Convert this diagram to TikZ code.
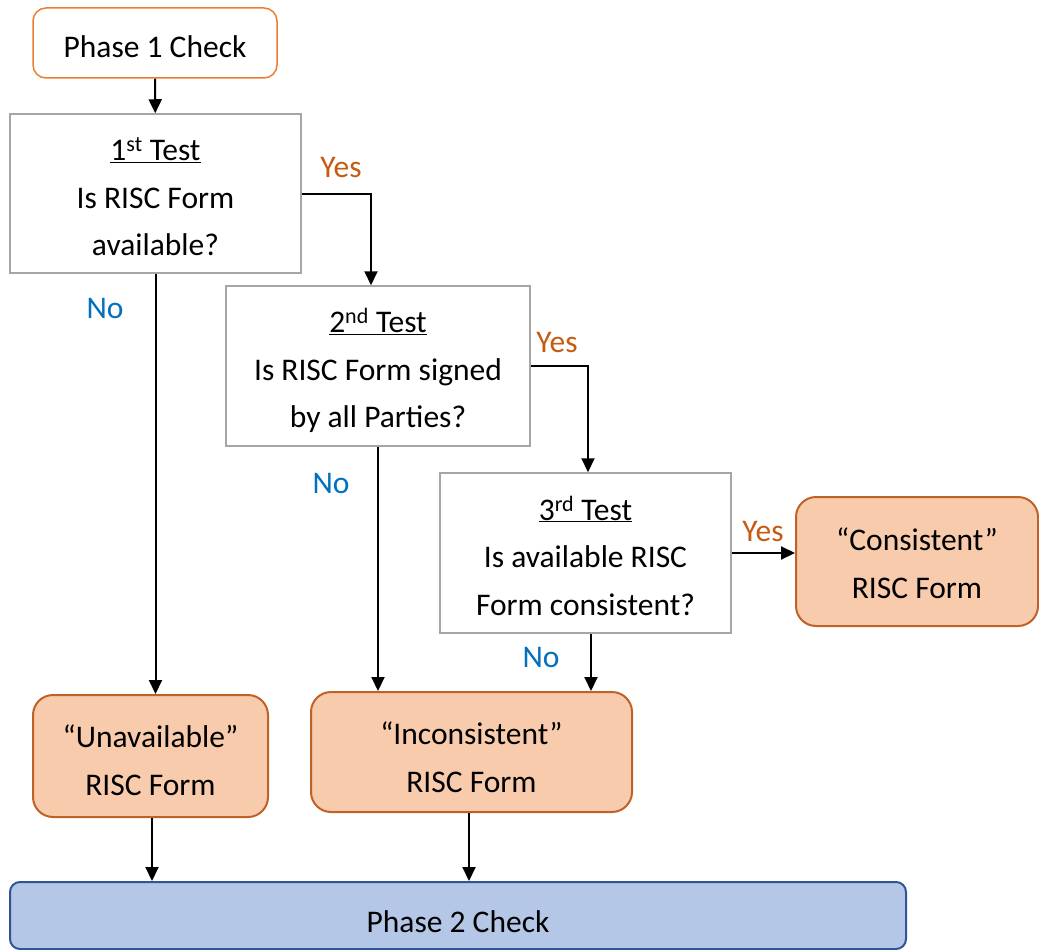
\documentclass[tikz,border=0pt]{standalone}
\usepackage{fontspec}
\setmainfont{Carlito}
\usetikzlibrary{arrows.meta}
\definecolor{pborder}{HTML}{ED7D31}
\definecolor{ofill}{HTML}{F8CBAD}
\definecolor{oborder}{HTML}{BF6228}
\definecolor{gborder}{HTML}{A6A6A6}
\definecolor{bfill}{HTML}{B4C7E7}
\definecolor{bborder}{HTML}{2F5597}
\definecolor{yescol}{HTML}{C55A11}
\definecolor{nocol}{HTML}{0070C0}
\begin{document}
\begin{tikzpicture}[x=1pt,y=-1pt,
  txt/.style={font=\fontsize{31.5}{47.5}\selectfont, align=center, inner sep=0pt},
  startbox/.style={draw=pborder, line width=1.5pt, rounded corners=13pt, fill=white, inner sep=0pt},
  testbox/.style={draw=gborder, line width=1.5pt, fill=white, inner sep=0pt},
  resultbox/.style={draw=oborder, line width=2pt, rounded corners=20pt, fill=ofill, inner sep=0pt},
  endbox/.style={draw=bborder, line width=2pt, rounded corners=10pt, fill=bfill, inner sep=0pt},
  conn/.style={line width=2pt, -{Triangle[length=14pt,width=13pt]}},
  yeslab/.style={txt, text=yescol},
  nolab/.style={txt, text=nocol}]
\useasboundingbox (0,0) rectangle (1039,950);
\node[startbox, minimum width=244pt, minimum height=70pt] (p1) at (155,43) {};
\node[testbox, minimum width=291pt, minimum height=159pt] (t1) at (155.5,193.5) {};
\node[testbox, minimum width=304pt, minimum height=160pt] (t2) at (378,366) {};
\node[testbox, minimum width=291pt, minimum height=160pt] (t3) at (585.5,553) {};
\node[resultbox, minimum width=242pt, minimum height=129pt] (cons) at (917,561.5) {};
\node[resultbox, minimum width=235pt, minimum height=122pt] (unav) at (150.5,756) {};
\node[resultbox, minimum width=321pt, minimum height=120pt] (incon) at (471.5,752) {};
\node[endbox, minimum width=896pt, minimum height=67pt] (p2) at (458,915.5) {};

\node[txt] (p1t) at ([yshift=-4pt]p1.center) {Phase 1 Check};
\node[txt] (t1t) at ([yshift=-3.5pt]t1.center) {\underline{1\textsuperscript{st} Test}\\Is RISC Form\\available?};
\node[txt] (t2t) at ([yshift=-4.5pt]t2.center) {\underline{2\textsuperscript{nd} Test}\\Is RISC Form signed\\by all Parties?};
\node[txt] (t3t) at ([yshift=-2.5pt]t3.center) {\underline{3\textsuperscript{rd} Test}\\Is available RISC\\Form consistent?};
\node[txt] (const) at ([yshift=-1.5pt]cons.center) {“Consistent”\\RISC Form};
\node[txt] (unavt) at ([yshift=-4pt]unav.center) {“Unavailable”\\RISC Form};
\node[txt] (incont) at ([yshift=-5pt]incon.center) {“Inconsistent”\\RISC Form};
\node[txt] (p2t) at ([yshift=-6pt]p2.center) {Phase 2 Check};

\node[yeslab] (y1) at (341,168) {Yes};
\node[yeslab] (y2) at (557,343) {Yes};
\node[yeslab] (y3) at (763,532) {Yes};
\node[nolab] (n1) at (105,308) {No};
\node[nolab] (n2) at (331,483) {No};
\node[nolab] (n3) at (541,657) {No};

\coordinate (c1) at ([xshift=-7pt]t2.north);
\coordinate (c2) at ([xshift=2.5pt]t3.north);
\coordinate (c3) at ([xshift=5.5pt]t3.south);
\coordinate (c4) at ([xshift=1.5pt]unav.south);
\coordinate (c5) at ([xshift=-2.5pt]incon.south);

\draw[conn] (p1) -- (t1);
\draw[conn] (t1.east) -| (c1);
\draw[conn] (t1.south) -- (t1.south |- unav.north);
\draw[conn] (t2.east) -| (c2);
\draw[conn] (t2.south) -- (t2.south |- incon.north);
\draw[conn] (t3.east) -- (t3.east -| cons.west);
\draw[conn] (c3) -- (c3 |- incon.north);
\draw[conn] (c4) -- (c4 |- p2.north);
\draw[conn] (c5) -- (c5 |- p2.north);
\end{tikzpicture}
\end{document}
